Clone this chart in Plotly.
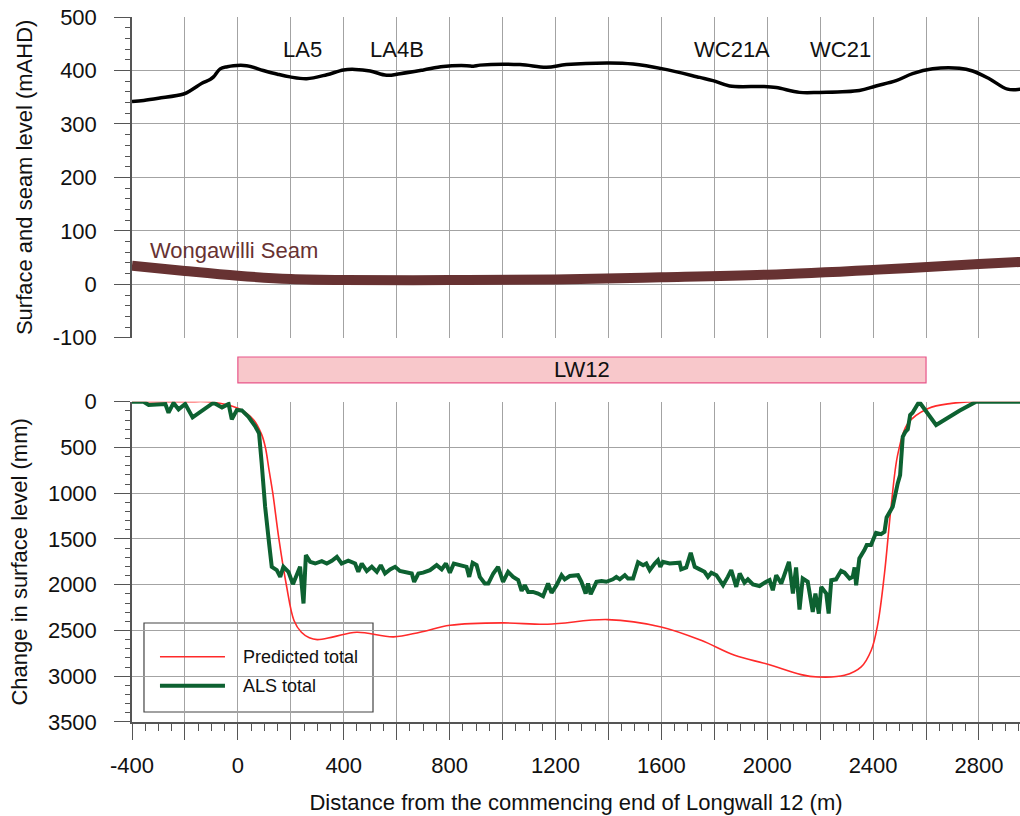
import plotly.graph_objects as go
from plotly.subplots import make_subplots

# ---- Surface profile along the monitoring line (mAHD) ----
surface_x = [-400, -356, -300, -205, -174, -136, -105, -92, -67, -40, -17, 33, 96, 150, 197, 260,
             336, 399, 443, 500, 562, 613, 701, 776, 865, 890, 915, 1066, 1166, 1241, 1405, 1493,
             1606, 1745, 1795, 1858, 1983, 2034, 2122, 2197, 2348, 2411, 2487, 2549, 2625, 2726,
             2776, 2839, 2908, 2960]
surface_y = [342, 344, 348, 356, 364, 376, 383, 388, 403, 407, 409, 409, 400, 393, 388, 384.5,
             392, 401, 402, 399, 391, 394, 401, 407.5, 409, 408, 410, 411, 406, 411, 414, 412,
             403, 387, 381, 371, 370, 368, 359, 359, 362.5, 371, 381, 394, 403, 404,
             399, 384.5, 365, 365]

# ---- Wongawilli Seam floor level (mAHD) ----
seam_x = [-400, -200, 0, 200, 400, 800, 1200, 1600, 2000, 2400, 2800, 2960]
seam_y = [35, 25, 16, 10, 8, 8, 9, 13, 18, 27, 38, 42]

# ---- Predicted total subsidence (mm) ----
pred_x = [-400, -200, -92, 0, 60, 90, 104, 118, 132, 155, 183, 212, 240, 270, 300, 361, 449,
          588, 688, 802, 1000, 1170, 1397, 1599, 1750, 1877, 2002, 2128, 2192, 2292, 2355,
          2393, 2418, 2443, 2468, 2494, 2531, 2608, 2696, 2784, 2960]
pred_y = [0, 0, 5, 72, 200, 360, 500, 750, 1000, 1500, 2000, 2390, 2520, 2580, 2600, 2570, 2519,
          2570, 2519, 2443, 2417, 2432, 2381, 2461, 2607, 2771, 2869, 2982, 3008, 2990, 2898,
          2716, 2424, 1877, 1148, 565, 237, 73, 18, 0, 0]

# ---- ALS measured total subsidence (mm) ----
als_x = [-400, -356, -337, -274, -262, -243, -224, -199, -171, -92, -60, -35, -23, -4, 15, 40,
         65, 80, 90, 103, 118, 128, 147, 160, 172, 191, 208, 235, 248, 257, 273, 292, 317, 336,
         355, 374, 392, 417, 443, 455, 468, 487, 506, 525, 540, 556, 575, 594, 612, 638, 657,
         666, 682, 700, 726, 751, 770, 786, 801, 816, 839, 864, 874, 887, 902, 914, 933, 946,
         965, 983, 1002, 1021, 1040, 1059, 1072, 1084, 1097, 1115, 1134, 1153, 1172, 1185,
         1204, 1223, 1235, 1254, 1285, 1298, 1314, 1323, 1333, 1355, 1374, 1392, 1417, 1430,
         1443, 1462, 1474, 1493, 1512, 1531, 1543, 1556, 1575, 1587, 1596, 1606, 1631, 1650,
         1669, 1675, 1694, 1711, 1726, 1745, 1763, 1776, 1789, 1808, 1833, 1851, 1864, 1883,
         1896, 1914, 1927, 1946, 1971, 1996, 2009, 2021, 2034, 2053, 2065, 2082, 2097, 2109,
         2122, 2134, 2153, 2172, 2182, 2195, 2204, 2223, 2232, 2242, 2260, 2279, 2292, 2311,
         2323, 2330, 2336, 2348, 2367, 2376, 2392, 2411, 2430, 2443, 2451, 2474, 2493, 2502,
         2512, 2522, 2531, 2540, 2549, 2574, 2638, 2726, 2789, 2960]
als_y = [0, 0, 36, 25, 120, 13, 84, 25, 171, 11, 62, 25, 193, 91, 95, 164,
         266, 346, 674, 1148, 1549, 1804, 1841, 1914, 1804, 1859, 1994, 1804, 2205, 1677, 1750,
         1768, 1742, 1768, 1738, 1695, 1768, 1738, 1768, 1859, 1768, 1850, 1804, 1859, 1786,
         1877, 1832, 1804, 1850, 1868, 1877, 1969, 1877, 1868, 1841, 1786, 1832, 1768, 1868,
         1768, 1786, 1804, 1914, 1761, 1786, 1914, 1987, 1987, 1877, 1804, 1968, 1859, 1914,
         1950, 2067, 2005, 2078, 2078, 2096, 2125, 1987, 2089, 2005, 1896, 1941, 1905, 1896,
         1968, 2096, 1987, 2103, 1968, 1959, 1968, 1941, 1914, 1941, 1896, 1932, 1932, 1755,
         1786, 1768, 1841, 1768, 1732, 1804, 1750, 1768, 1759, 1759, 1832, 1811, 1651, 1804,
         1832, 1859, 1914, 1868, 1896, 2005, 1914, 1841, 2023, 1877, 1978, 1941, 1996, 2014,
         1968, 1950, 2060, 1896, 1987, 1896, 1750, 2096, 1811, 2271, 1932, 1968, 2297, 2096,
         2315, 2023, 2096, 2315, 1950, 1941, 1848, 1868, 1932, 1914, 1811, 2005, 1713, 1622,
         1567, 1567, 1433, 1447, 1422, 1264, 1148, 893, 802, 383, 328, 302, 146, 120, 0, 255,
         98, 0, 0]

# ---- Text labels ----
site_names = ["LA5", "LA4B", "WC21A", "WC21"]
site_x = [245, 600, 1868, 2277]
site_y = [439, 439, 439, 439]
panel_name = "LW12"
panel_start, panel_end = 0, 2600

x_ticks = list(range(-400, 2801, 200))
x_ticktext = [str(v) if v % 400 == 0 else "" for v in x_ticks]
level_ticks = list(range(-100, 501, 100))
level_ticktext = [str(v) for v in level_ticks]
change_ticks = list(range(0, 3501, 500))
change_ticktext = [str(v) for v in change_ticks]

FONT = "Liberation Sans, Arial, sans-serif"
GRID = "#a3a3a3"
AXIS = "#555555"
X_RANGE = [-400, 2955]

fig = make_subplots(rows=2, cols=1, shared_xaxes=False, vertical_spacing=0.0)

fig.add_trace(go.Scatter(x=seam_x, y=seam_y, mode="lines", line=dict(color="#673232", width=10),
                         line_shape="spline", showlegend=False), row=1, col=1)
fig.add_trace(go.Scatter(x=surface_x, y=surface_y, mode="lines", line=dict(color="#000000", width=3.5),
                         line_shape="spline", showlegend=False), row=1, col=1)
fig.add_trace(go.Scatter(x=pred_x, y=pred_y, mode="lines", line=dict(color="#ff2a2a", width=1.6),
                         line_shape="spline", showlegend=False), row=2, col=1)
fig.add_trace(go.Scatter(x=als_x, y=als_y, mode="lines", line=dict(color="#0d6131", width=4),
                         showlegend=False), row=2, col=1)

tickfont = dict(family=FONT, size=22, color="#111111")
titlefont = dict(family=FONT, size=22, color="#111111")

# shared x settings
fig.update_xaxes(range=X_RANGE, tickmode="array", tickvals=x_ticks, showgrid=True,
                 gridcolor=GRID, gridwidth=1.2, zeroline=False)
fig.update_xaxes(row=1, col=1, showticklabels=False, ticks="", showline=False)
fig.update_xaxes(row=2, col=1, ticktext=x_ticktext, ticks="outside", ticklen=16, tickwidth=1.2,
                 tickcolor=AXIS, showline=True, linecolor=AXIS, linewidth=1.5,
                 tickfont=tickfont, ticklabelstandoff=7,
                 minor=dict(dtick=50, tick0=0, ticks="outside", ticklen=7, tickcolor=AXIS,
                            tickwidth=1.2, showgrid=False),
                 title=dict(text="Distance from the commencing end of Longwall 12 (m)",
                            font=titlefont, standoff=17))

fig.update_yaxes(row=1, col=1, domain=[0.545, 1.0], range=[-100, 500],
                 tickmode="array", tickvals=level_ticks, ticktext=level_ticktext,
                 showgrid=True, gridcolor=GRID, gridwidth=1.2, zeroline=False,
                 ticks="outside", ticklen=16, tickwidth=1.2, tickcolor=AXIS,
                 showline=True, linecolor=AXIS, linewidth=1.5, tickfont=tickfont,
                 ticklabelstandoff=13,
                 minor=dict(tickmode="linear", dtick=20, tick0=0, ticks="outside", ticklen=5,
                            tickcolor=AXIS, tickwidth=1.2, showgrid=False),
                 title=dict(text="Surface and seam level (mAHD)", font=titlefont, standoff=14))
fig.update_yaxes(row=2, col=1, domain=[0.0, 0.4543], range=[3500, 0],
                 tickmode="array", tickvals=change_ticks, ticktext=change_ticktext,
                 showgrid=True, gridcolor=GRID, gridwidth=1.2, zeroline=False,
                 ticks="outside", ticklen=16, tickwidth=1.2, tickcolor=AXIS,
                 showline=True, linecolor=AXIS, linewidth=1.5, tickfont=tickfont,
                 ticklabelstandoff=13,
                 minor=dict(tickmode="linear", dtick=100, tick0=0, ticks="outside", ticklen=5,
                            tickcolor=AXIS, tickwidth=1.2, showgrid=False),
                 title=dict(text="Change in surface level (mm)", font=titlefont, standoff=14))

annotations = []
for name, sx, sy in zip(site_names, site_x, site_y):
    annotations.append(dict(x=sx, y=sy, xref="x", yref="y", text=name, showarrow=False,
                            yanchor="middle",
                            font=dict(family=FONT, size=22, color="#111111")))
annotations.append(dict(x=-338, y=64, xref="x", yref="y", text="Wongawilli Seam", showarrow=False,
                        xanchor="left", yanchor="middle",
                        font=dict(family=FONT, size=22, color="#673232")))
annotations.append(dict(x=(panel_start + panel_end) / 2, y=0.4993, xref="x2", yref="paper",
                        text=panel_name, showarrow=False, yanchor="middle",
                        font=dict(family=FONT, size=22, color="#111111")))

# legend drawn as a framed key inside the lower panel
annotations.append(dict(x=0.1227, y=0.0926, xref="paper", yref="paper", text="Predicted total",
                        xanchor="left", yanchor="middle", showarrow=False,
                        font=dict(family=FONT, size=18, color="#111111")))
annotations.append(dict(x=0.1227, y=0.0515, xref="paper", yref="paper", text="ALS total",
                        xanchor="left", yanchor="middle", showarrow=False,
                        font=dict(family=FONT, size=18, color="#111111")))

shapes = [
    dict(type="rect", xref="x2", yref="paper", x0=panel_start, x1=panel_end, y0=0.4809, y1=0.5177,
         fillcolor="#f8c8cb", line=dict(color="#e8558a", width=1.2), layer="above"),
    dict(type="rect", xref="paper", yref="paper", x0=0.0135, x1=0.2714, y0=0.0142, y1=0.1404,
         fillcolor="#ffffff", line=dict(color="#444444", width=1.2), layer="between"),
    dict(type="line", xref="paper", yref="paper", x0=0.0315, x1=0.1047, y0=0.0926, y1=0.0926,
         line=dict(color="#ff2a2a", width=1.6), layer="above"),
    dict(type="line", xref="paper", yref="paper", x0=0.0315, x1=0.1047, y0=0.0515, y1=0.0515,
         line=dict(color="#0d6131", width=4), layer="above"),
]

fig.update_layout(width=1020, height=816, margin=dict(l=132, r=0, t=17, b=94),
                  paper_bgcolor="white", plot_bgcolor="white",
                  annotations=annotations, shapes=shapes, showlegend=False,
                  font=dict(family=FONT))

fig.write_html("out.html")
